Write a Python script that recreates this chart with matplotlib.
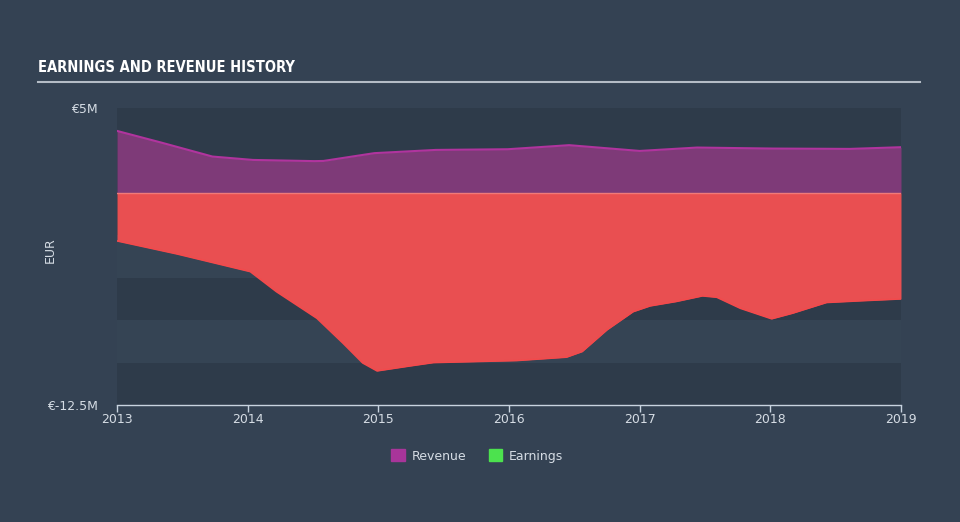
import numpy as np
import matplotlib
matplotlib.use("Agg")
from matplotlib import pyplot as plt
from matplotlib.patches import Patch

# Revenue (top edge), values in EUR millions
rev_x = [2013.0, 2013.34, 2013.73, 2014.04, 2014.51, 2014.58, 2014.97, 2015.44,
         2015.99, 2016.46, 2017.0, 2017.44, 2018.02, 2018.61, 2019.0]
rev_y = [3.65, 2.96, 2.14, 1.94, 1.87, 1.88, 2.34, 2.53,
         2.57, 2.81, 2.47, 2.67, 2.61, 2.59, 2.69]

# Earnings (bottom edge), values in EUR millions
earn_x = [2013.0, 2013.46, 2014.02, 2014.22, 2014.53, 2014.73, 2014.88, 2014.99,
          2015.24, 2015.42, 2016.06, 2016.44, 2016.56, 2016.75, 2016.95, 2017.08,
          2017.28, 2017.48, 2017.59, 2017.77, 2018.01, 2018.17, 2018.43, 2018.69, 2019.0]
earn_y = [-2.83, -3.6, -4.64, -5.82, -7.39, -8.86, -10.02, -10.49,
          -10.2, -10.0, -9.88, -9.68, -9.35, -8.07, -7.0, -6.66,
          -6.4, -6.07, -6.15, -6.8, -7.42, -7.09, -6.46, -6.36, -6.25]

years = [2013, 2014, 2015, 2016, 2017, 2018, 2019]

bg = "#344253"
dark_band = "#2e3b4a"
light_band = "#354454"
text_col = "#d5dce4"

fig = plt.figure(figsize=(9.6, 5.22), dpi=100)
fig.patch.set_facecolor(bg)
ax = fig.add_axes([117 / 960, 1 - 405 / 522, (901 - 117) / 960, (405 - 108) / 522])
ax.set_facecolor(dark_band)

# lighter background bands in the lower half
for lo, hi in [(-5, -2.5), (-10, -7.5)]:
    ax.axhspan(lo, hi, color=light_band, lw=0, zorder=0)

ax.fill_between(rev_x, 0, rev_y, color="#7e3a78", lw=0, zorder=2)
ax.plot(rev_x, rev_y, color="#b0349e", lw=1.5, zorder=3)
ax.fill_between(earn_x, 0, earn_y, color="#e94f51", lw=0, zorder=2)
ax.plot(earn_x, earn_y, color="#f24a4c", lw=1.2, zorder=3)
ax.plot([2013, 2019], [0, 0], color="#f07a78", lw=1, zorder=3)

ax.set_xlim(2013, 2019)
ax.set_ylim(-12.5, 5)
for s in ["top", "right", "left"]:
    ax.spines[s].set_visible(False)
ax.spines["bottom"].set_color("#c8d3df")
ax.spines["bottom"].set_linewidth(1)

ax.set_xticks(years)
ax.set_xticklabels([str(y) for y in years])
ax.tick_params(axis="x", colors="#c8d3df", labelcolor=text_col, labelsize=9,
               length=5, width=1, direction="out", pad=1)
ax.set_yticks([5, -12.5])
ax.set_yticklabels(["€5M", "€-12.5M"])
ax.tick_params(axis="y", length=0, labelcolor=text_col, labelsize=9, pad=14)
ax.set_ylabel("EUR", color=text_col, fontsize=9, labelpad=10)
ax.yaxis.set_label_coords(-0.077, 0.52)

# title and rule
fig.text(38 / 960, 1 - 68 / 522, "EARNINGS AND REVENUE HISTORY", color="white",
         fontsize=10.5, fontweight="bold", fontstretch="condensed", va="center", ha="left",
         family=["DejaVu Sans"])
fig.add_artist(plt.Line2D([38 / 960, 920 / 960], [1 - 81.5 / 522, 1 - 81.5 / 522],
                          color="#b4bcc6", lw=1.5))

handles = [Patch(color="#a8359a", label="Revenue"), Patch(color="#4ce24e", label="Earnings")]
leg = fig.legend(handles=handles, loc="center", bbox_to_anchor=(0.497, 1 - 456 / 522),
                 ncol=2, frameon=False, fontsize=9, handlelength=1.1, handleheight=1.1,
                 columnspacing=1.8, handletextpad=0.5)
for t in leg.get_texts():
    t.set_color(text_col)

fig.savefig("out.png", dpi=100, facecolor=bg)
